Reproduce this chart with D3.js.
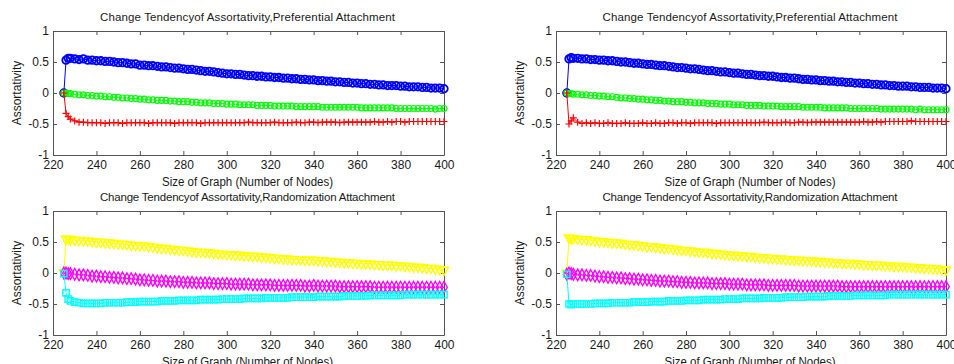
<!DOCTYPE html>
<html><head><meta charset="utf-8">
<script src="https://cdn.jsdelivr.net/npm/d3@7"></script>
<style>
html,body{margin:0;padding:0;background:#fff;}
svg{display:block;}
text{font-family:"Liberation Sans",Arial,Helvetica,sans-serif;fill:#1a1a1a;}
</style></head><body>
<svg id="c" width="954" height="364"></svg>
<script>
// ---------- data ----------
const nodes = [225,226,227,228,
 230,232,234,236,238,240,242,244,246,248,
 250,252,254,256,258,260,262,264,266,268,
 270,272,274,276,278,280,282,284,286,288,
 290,292,294,296,298,300,302,304,306,308,
 310,312,314,316,318,320,322,324,326,328,
 330,332,334,336,338,340,342,344,346,348,
 350,352,354,356,358,360,362,364,366,368,
 370,372,374,376,378,380,382,384,386,388,
 390,392,394,396,398,400];
const xTicks = [220,240,260,280,300,320,340,360,380,400];
const yTicks = [-1,-0.5,0,0.5,1];
const titlePref = "Change Tendencyof Assortativity,Preferential Attachment";
const titleRand = "Change Tendencyof Assortativity,Randomization Attachment";
const xLabel = "Size of Graph (Number of Nodes)";
const yLabel = "Assortativity";

// Preferential attachment, left run
const prefBlueA = [0,0.53,0.56,0.56,
 0.55,0.54,0.55,0.53,0.53,0.52,0.52,0.51,0.51,0.50,
 0.49,0.49,0.48,0.47,0.47,0.45,0.45,0.44,0.44,0.43,
 0.42,0.42,0.41,0.40,0.40,0.39,0.38,0.38,0.37,0.36,
 0.35,0.35,0.34,0.33,0.32,0.31,0.31,0.30,0.30,0.29,
 0.28,0.28,0.27,0.27,0.26,0.26,0.25,0.25,0.24,0.24,
 0.23,0.23,0.22,0.22,0.21,0.21,0.20,0.20,0.19,0.19,
 0.18,0.18,0.17,0.17,0.16,0.16,0.15,0.15,0.14,0.14,
 0.13,0.13,0.12,0.12,0.12,0.11,0.11,0.10,0.10,0.10,
 0.09,0.09,0.08,0.08,0.08,0.07];
const prefGreenA = [0,0.00,-0.01,-0.01,
 -0.02,-0.03,-0.03,-0.04,-0.04,-0.05,-0.05,-0.06,-0.06,-0.07,
 -0.07,-0.08,-0.08,-0.09,-0.09,-0.10,-0.10,-0.11,-0.11,-0.12,
 -0.12,-0.12,-0.13,-0.13,-0.14,-0.14,-0.14,-0.15,-0.15,-0.16,
 -0.16,-0.16,-0.17,-0.17,-0.17,-0.18,-0.18,-0.18,-0.19,-0.19,
 -0.19,-0.19,-0.20,-0.20,-0.20,-0.20,-0.21,-0.21,-0.21,-0.21,
 -0.21,-0.22,-0.22,-0.22,-0.22,-0.22,-0.22,-0.23,-0.23,-0.23,
 -0.23,-0.23,-0.23,-0.23,-0.23,-0.23,-0.24,-0.24,-0.24,-0.24,
 -0.24,-0.24,-0.24,-0.24,-0.25,-0.25,-0.25,-0.25,-0.25,-0.25,
 -0.25,-0.25,-0.25,-0.26,-0.25,-0.25];
const prefRedA = [0,-0.33,-0.38,-0.42,
 -0.45,-0.47,-0.47,-0.48,-0.48,-0.48,-0.48,-0.49,-0.48,-0.48,
 -0.48,-0.49,-0.48,-0.48,-0.48,-0.48,-0.48,-0.49,-0.48,-0.48,
 -0.48,-0.48,-0.48,-0.49,-0.48,-0.48,-0.48,-0.48,-0.48,-0.49,
 -0.48,-0.48,-0.48,-0.48,-0.48,-0.48,-0.48,-0.48,-0.48,-0.48,
 -0.47,-0.48,-0.48,-0.48,-0.48,-0.48,-0.47,-0.48,-0.48,-0.48,
 -0.48,-0.47,-0.48,-0.48,-0.47,-0.47,-0.48,-0.47,-0.47,-0.47,
 -0.47,-0.48,-0.47,-0.47,-0.47,-0.47,-0.47,-0.47,-0.47,-0.46,
 -0.47,-0.47,-0.46,-0.47,-0.46,-0.46,-0.47,-0.46,-0.46,-0.46,
 -0.46,-0.46,-0.46,-0.46,-0.46,-0.46];

// Preferential attachment, right run
const prefBlueB = [0,0.55,0.57,0.56,
 0.56,0.55,0.55,0.54,0.54,0.53,0.53,0.52,0.52,0.51,
 0.50,0.50,0.49,0.48,0.48,0.47,0.46,0.46,0.45,0.44,
 0.44,0.43,0.42,0.41,0.41,0.40,0.39,0.39,0.38,0.37,
 0.36,0.36,0.35,0.34,0.34,0.33,0.32,0.32,0.31,0.30,
 0.30,0.29,0.28,0.28,0.27,0.27,0.26,0.25,0.25,0.24,
 0.24,0.23,0.22,0.22,0.21,0.21,0.20,0.20,0.19,0.19,
 0.18,0.18,0.17,0.17,0.16,0.16,0.15,0.15,0.14,0.14,
 0.13,0.13,0.12,0.12,0.11,0.11,0.11,0.10,0.10,0.09,
 0.09,0.09,0.08,0.08,0.08,0.07];
const prefGreenB = [0,-0.01,-0.01,-0.02,
 -0.02,-0.03,-0.03,-0.04,-0.04,-0.05,-0.05,-0.06,-0.06,-0.07,
 -0.08,-0.08,-0.09,-0.09,-0.10,-0.10,-0.11,-0.11,-0.12,-0.12,
 -0.13,-0.13,-0.14,-0.14,-0.14,-0.15,-0.15,-0.16,-0.16,-0.16,
 -0.17,-0.17,-0.17,-0.18,-0.18,-0.18,-0.19,-0.19,-0.19,-0.20,
 -0.20,-0.20,-0.20,-0.21,-0.21,-0.21,-0.21,-0.22,-0.22,-0.22,
 -0.22,-0.22,-0.23,-0.23,-0.23,-0.23,-0.23,-0.24,-0.24,-0.24,
 -0.24,-0.24,-0.24,-0.25,-0.25,-0.25,-0.25,-0.25,-0.25,-0.25,
 -0.26,-0.26,-0.26,-0.26,-0.26,-0.26,-0.26,-0.26,-0.27,-0.26,
 -0.27,-0.27,-0.27,-0.27,-0.27,-0.27];
const prefRedB = [0,-0.50,-0.45,-0.40,
 -0.47,-0.49,-0.48,-0.49,-0.48,-0.49,-0.49,-0.48,-0.49,-0.49,
 -0.49,-0.48,-0.49,-0.49,-0.49,-0.48,-0.49,-0.49,-0.48,-0.49,
 -0.49,-0.48,-0.48,-0.49,-0.48,-0.48,-0.49,-0.48,-0.48,-0.48,
 -0.48,-0.48,-0.49,-0.48,-0.48,-0.48,-0.48,-0.48,-0.48,-0.48,
 -0.48,-0.48,-0.48,-0.47,-0.48,-0.48,-0.48,-0.48,-0.47,-0.48,
 -0.48,-0.47,-0.47,-0.48,-0.47,-0.47,-0.47,-0.47,-0.47,-0.47,
 -0.47,-0.47,-0.47,-0.47,-0.47,-0.47,-0.46,-0.47,-0.47,-0.46,
 -0.47,-0.46,-0.46,-0.46,-0.46,-0.46,-0.46,-0.45,-0.46,-0.46,
 -0.46,-0.46,-0.46,-0.46,-0.46,-0.46];

// Randomization attachment, left run
const randYellowA = [0.01,0.55,0.55,0.54,
 0.53,0.53,0.52,0.52,0.51,0.50,0.50,0.49,0.49,0.48,
 0.47,0.47,0.46,0.45,0.45,0.44,0.44,0.43,0.42,0.41,
 0.40,0.40,0.39,0.38,0.37,0.37,0.36,0.35,0.34,0.34,
 0.33,0.33,0.32,0.31,0.31,0.30,0.30,0.29,0.29,0.28,
 0.28,0.27,0.27,0.26,0.26,0.25,0.24,0.24,0.23,0.23,
 0.22,0.22,0.22,0.21,0.21,0.21,0.20,0.20,0.19,0.19,
 0.18,0.18,0.17,0.17,0.16,0.16,0.15,0.15,0.15,0.14,
 0.14,0.13,0.13,0.13,0.12,0.12,0.11,0.11,0.10,0.10,
 0.09,0.08,0.08,0.07,0.06,0.05];
const randMagentaA = [0.00,0.00,-0.01,-0.01,
 -0.02,-0.03,-0.03,-0.04,-0.05,-0.05,-0.06,-0.06,-0.07,-0.07,
 -0.08,-0.08,-0.09,-0.09,-0.10,-0.11,-0.11,-0.12,-0.12,-0.13,
 -0.13,-0.13,-0.14,-0.14,-0.14,-0.15,-0.15,-0.15,-0.16,-0.16,
 -0.16,-0.16,-0.17,-0.17,-0.17,-0.17,-0.18,-0.18,-0.18,-0.18,
 -0.18,-0.19,-0.19,-0.19,-0.19,-0.19,-0.20,-0.20,-0.20,-0.20,
 -0.20,-0.20,-0.20,-0.21,-0.21,-0.20,-0.21,-0.21,-0.21,-0.21,
 -0.21,-0.22,-0.22,-0.22,-0.22,-0.22,-0.22,-0.22,-0.22,-0.23,
 -0.23,-0.23,-0.23,-0.23,-0.23,-0.23,-0.23,-0.23,-0.23,-0.23,
 -0.23,-0.23,-0.23,-0.23,-0.23,-0.23];
const randCyanA = [-0.01,-0.32,-0.42,-0.45,
 -0.47,-0.48,-0.49,-0.49,-0.49,-0.49,-0.49,-0.48,-0.48,-0.48,
 -0.48,-0.48,-0.47,-0.47,-0.47,-0.46,-0.46,-0.46,-0.46,-0.46,
 -0.45,-0.45,-0.45,-0.45,-0.44,-0.44,-0.44,-0.44,-0.44,-0.43,
 -0.43,-0.43,-0.43,-0.43,-0.42,-0.42,-0.42,-0.42,-0.42,-0.41,
 -0.41,-0.41,-0.41,-0.41,-0.40,-0.40,-0.40,-0.40,-0.40,-0.40,
 -0.39,-0.39,-0.39,-0.39,-0.39,-0.39,-0.38,-0.38,-0.38,-0.38,
 -0.38,-0.38,-0.37,-0.37,-0.37,-0.37,-0.37,-0.37,-0.36,-0.36,
 -0.36,-0.36,-0.36,-0.36,-0.36,-0.36,-0.35,-0.35,-0.35,-0.35,
 -0.35,-0.35,-0.35,-0.35,-0.35,-0.35];

// Randomization attachment, right run
const randYellowB = [0.00,0.57,0.56,0.56,
 0.55,0.54,0.54,0.53,0.52,0.51,0.51,0.50,0.49,0.49,
 0.48,0.47,0.46,0.46,0.45,0.44,0.43,0.43,0.42,0.41,
 0.40,0.40,0.39,0.38,0.37,0.37,0.36,0.35,0.34,0.34,
 0.33,0.32,0.32,0.31,0.30,0.29,0.29,0.28,0.28,0.27,
 0.27,0.26,0.25,0.25,0.24,0.24,0.23,0.23,0.22,0.22,
 0.21,0.21,0.20,0.20,0.20,0.19,0.19,0.18,0.18,0.17,
 0.17,0.16,0.16,0.16,0.15,0.15,0.14,0.14,0.13,0.13,
 0.13,0.12,0.12,0.11,0.11,0.11,0.10,0.10,0.09,0.09,
 0.08,0.08,0.07,0.07,0.06,0.05];
const randMagentaB = [-0.02,0.00,-0.01,-0.02,
 -0.03,-0.03,-0.04,-0.04,-0.05,-0.06,-0.06,-0.07,-0.07,-0.08,
 -0.08,-0.09,-0.09,-0.10,-0.10,-0.11,-0.11,-0.12,-0.12,-0.13,
 -0.13,-0.13,-0.14,-0.14,-0.15,-0.15,-0.15,-0.16,-0.16,-0.16,
 -0.16,-0.17,-0.17,-0.17,-0.17,-0.18,-0.18,-0.18,-0.18,-0.19,
 -0.19,-0.19,-0.19,-0.19,-0.20,-0.20,-0.20,-0.20,-0.20,-0.20,
 -0.20,-0.21,-0.21,-0.21,-0.21,-0.21,-0.21,-0.21,-0.21,-0.21,
 -0.21,-0.22,-0.22,-0.22,-0.22,-0.22,-0.22,-0.22,-0.22,-0.22,
 -0.22,-0.22,-0.22,-0.22,-0.22,-0.22,-0.22,-0.22,-0.22,-0.22,
 -0.22,-0.22,-0.22,-0.22,-0.22,-0.22];
const randCyanB = [-0.02,-0.50,-0.51,-0.50,
 -0.50,-0.50,-0.50,-0.50,-0.49,-0.49,-0.49,-0.49,-0.48,-0.48,
 -0.48,-0.48,-0.48,-0.47,-0.47,-0.47,-0.47,-0.46,-0.46,-0.46,
 -0.46,-0.45,-0.45,-0.45,-0.45,-0.44,-0.44,-0.44,-0.44,-0.43,
 -0.43,-0.43,-0.43,-0.43,-0.42,-0.42,-0.42,-0.42,-0.41,-0.41,
 -0.41,-0.41,-0.41,-0.40,-0.40,-0.40,-0.40,-0.40,-0.39,-0.39,
 -0.39,-0.39,-0.39,-0.38,-0.38,-0.38,-0.38,-0.38,-0.37,-0.37,
 -0.37,-0.37,-0.37,-0.37,-0.36,-0.36,-0.36,-0.36,-0.36,-0.36,
 -0.36,-0.36,-0.35,-0.35,-0.35,-0.35,-0.35,-0.35,-0.35,-0.35,
 -0.35,-0.35,-0.35,-0.35,-0.35,-0.35];

// ---------- drawing ----------
const marker = {
  circleBig: d3.symbol(d3.symbolCircle, 44)(),
  circle: d3.symbol(d3.symbolCircle, 28)(),
  plus: "M-3.5,0H3.5M0,-3.5V3.5",
  triDown: d3.symbol(d3.symbolTriangle, 38)(),
  diamond: d3.symbol(d3.symbolDiamond, 38)(),
  square: d3.symbol(d3.symbolSquare, 40)()
};

const panels = [
  {box:{x:53, y:31, w:391, h:124}, title:titlePref, series:[
    {v:prefBlueA, c:"#0000ff", m:"circleBig", sw:1.8},
    {v:prefGreenA, c:"#00ff00", m:"circle", sw:1.2},
    {v:prefRedA, c:"#ff0000", m:"plus", sw:1.2}]},
  {box:{x:556, y:31, w:390, h:124}, title:titlePref, series:[
    {v:prefBlueB, c:"#0000ff", m:"circleBig", sw:1.8},
    {v:prefGreenB, c:"#00ff00", m:"circle", sw:1.2},
    {v:prefRedB, c:"#ff0000", m:"plus", sw:1.2}]},
  {box:{x:53, y:211, w:391, h:124}, title:titleRand, series:[
    {v:randYellowA, c:"#ffff00", m:"triDown", sw:1.4},
    {v:randMagentaA, c:"#ff00ff", m:"diamond", sw:1.4},
    {v:randCyanA, c:"#00ffff", m:"square", sw:1.4}]},
  {box:{x:556, y:211, w:390, h:124}, title:titleRand, series:[
    {v:randYellowB, c:"#ffff00", m:"triDown", sw:1.4},
    {v:randMagentaB, c:"#ff00ff", m:"diamond", sw:1.4},
    {v:randCyanB, c:"#00ffff", m:"square", sw:1.4}]}
];

const svg = d3.select("#c");
const fmt = d => String(d);

panels.forEach(p => {
  const b = p.box;
  const g = svg.append("g").attr("transform", `translate(${b.x},${b.y})`);
  const x = d3.scaleLinear().domain([220, 400]).range([0, b.w]);
  const y = d3.scaleLinear().domain([-1, 1]).range([b.h, 0]);

  // axes (MATLAB box style, inward ticks)
  const axColor = "#555";
  const styleAxis = sel => {
    sel.selectAll(".domain").attr("stroke", axColor).attr("stroke-width", 1);
    sel.selectAll(".tick line").attr("stroke", axColor);
    sel.selectAll("text").attr("font-size", 12).attr("fill", "#1a1a1a")
      .attr("font-family", '"Liberation Sans",Arial,sans-serif');
  };
  g.append("g").attr("transform", `translate(0,${b.h})`)
    .call(d3.axisBottom(x).tickValues(xTicks).tickFormat(fmt).tickSizeInner(-4).tickSizeOuter(0).tickPadding(5))
    .call(styleAxis);
  g.append("g")
    .call(d3.axisTop(x).tickValues(xTicks).tickFormat("").tickSizeInner(-4).tickSizeOuter(0))
    .call(styleAxis);
  g.append("g")
    .call(d3.axisLeft(y).tickValues(yTicks).tickFormat(fmt).tickSizeInner(-4).tickSizeOuter(0).tickPadding(4))
    .call(styleAxis);
  g.append("g").attr("transform", `translate(${b.w},0)`)
    .call(d3.axisRight(y).tickValues(yTicks).tickFormat("").tickSizeInner(-4).tickSizeOuter(0))
    .call(styleAxis);

  // series
  const line = d3.line().x((d, i) => x(nodes[i])).y(d => y(d));
  p.series.forEach(s => {
    g.append("path").attr("d", line(s.v)).attr("fill", "none")
      .attr("stroke", s.c).attr("stroke-width", 1);
    g.append("g").selectAll("path").data(s.v).join("path")
      .attr("transform", (d, i) => `translate(${x(nodes[i])},${y(d)})` + (s.m === "triDown" ? " rotate(180)" : ""))
      .attr("d", marker[s.m])
      .attr("fill", "none").attr("stroke", s.c).attr("stroke-width", s.sw);
  });

  // labels
  g.append("text").attr("x", b.w / 2 - 1).attr("y", -14).attr("text-anchor", "middle")
    .attr("dominant-baseline", "central").attr("font-size", 11.5)
    .attr("textLength", 295).attr("lengthAdjust", "spacing").text(p.title);
  g.append("text").attr("x", b.w / 2 - 1).attr("y", b.h + 27).attr("text-anchor", "middle")
    .attr("dominant-baseline", "central").attr("font-size", 12)
    .attr("textLength", 171).attr("lengthAdjust", "spacingAndGlyphs").text(xLabel);
  g.append("text").attr("transform", `translate(${-36},${b.h / 2}) rotate(-90)`)
    .attr("text-anchor", "middle").attr("dominant-baseline", "central")
    .attr("font-size", 12).text(yLabel);
});
</script>
</body></html>
